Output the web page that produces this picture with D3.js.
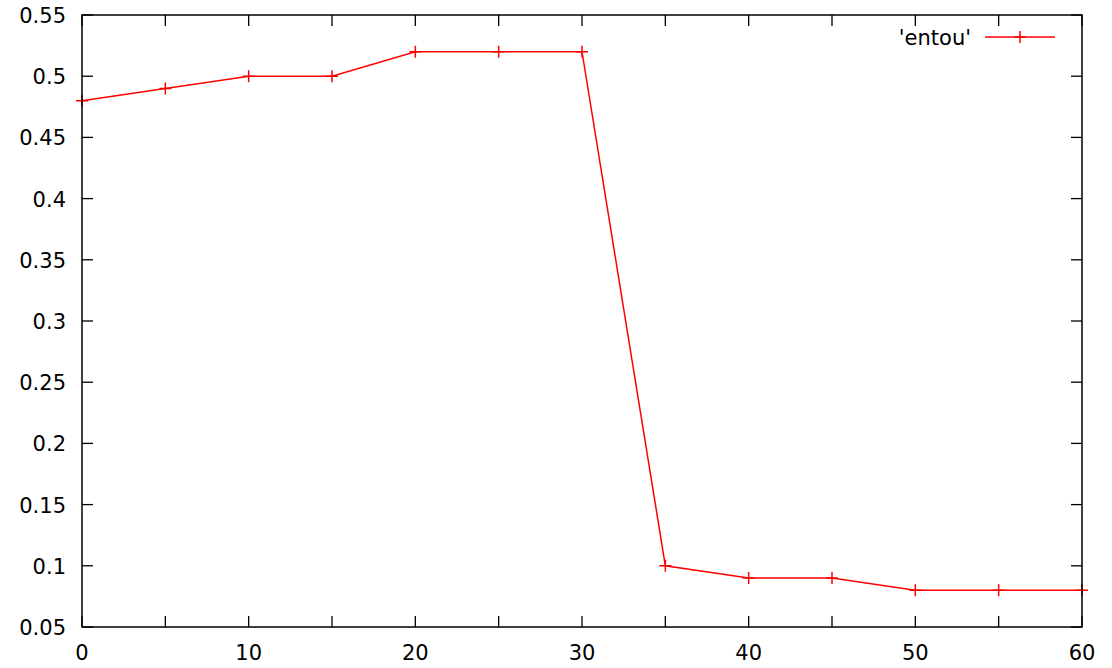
<!DOCTYPE html>
<html>
<head>
<meta charset="utf-8">
<script src="https://cdn.jsdelivr.net/npm/d3@7"></script>
<style>
  body { margin: 0; background: #fff; }
  text { font-family: "DejaVu Sans", sans-serif; font-size: 21px; fill: #000; }
</style>
</head>
<body>
<div id="chart"></div>
<script>
const xs = [0, 5, 10, 15, 20, 25, 30, 35, 40, 45, 50, 55, 60]
const entou = [0.48, 0.49, 0.50, 0.50, 0.52, 0.52, 0.52, 0.10, 0.09, 0.09, 0.08, 0.08, 0.08]
const xTicks = [0, 10, 20, 30, 40, 50, 60]
const xMinor = [5, 15, 25, 35, 45, 55]
const yTicks = [0.05, 0.1, 0.15, 0.2, 0.25, 0.3, 0.35, 0.4, 0.45, 0.5, 0.55]
const seriesName = "'entou'"

const W = 1112, H = 668
const pLeft = 82, pRight = 1082, pTop = 15, pBottom = 627

const svg = d3.select('#chart')
  .append('svg')
  .attr('width', W)
  .attr('height', H)

const x = d3.scaleLinear().domain([0, 60]).range([pLeft, pRight])
const y = d3.scaleLinear().domain([0.05, 0.55]).range([pBottom, pTop])

// inward ticks on all sides, gnuplot-style
const tl = 11
const g = svg.append('g').attr('stroke', '#000').attr('stroke-width', 1.3)
xTicks.concat(xMinor).forEach(function(v) {
  g.append('line').attr('x1', x(v)).attr('x2', x(v)).attr('y1', pBottom).attr('y2', pBottom - tl)
  g.append('line').attr('x1', x(v)).attr('x2', x(v)).attr('y1', pTop).attr('y2', pTop + tl)
})
yTicks.forEach(function(v) {
  g.append('line').attr('x1', pLeft).attr('x2', pLeft + tl).attr('y1', y(v)).attr('y2', y(v))
  g.append('line').attr('x1', pRight).attr('x2', pRight - tl).attr('y1', y(v)).attr('y2', y(v))
})

svg.selectAll('.xl')
  .data(xTicks)
  .enter()
  .append('text')
  .attr('class', 'xl')
  .attr('x', function(d) { return x(d) })
  .attr('y', 660)
  .attr('text-anchor', 'middle')
  .text(function(d) { return d })

svg.selectAll('.yl')
  .data(yTicks)
  .enter()
  .append('text')
  .attr('class', 'yl')
  .attr('x', 66)
  .attr('y', function(d) { return y(d) + 8 })
  .attr('text-anchor', 'end')
  .text(function(d) { return d3.format('~g')(d) })

const pts = xs.map(function(v, i) { return [v, entou[i]] })

svg.append('path')
  .datum(pts)
  .attr('fill', 'none')
  .attr('stroke', '#ff0000')
  .attr('stroke-width', 1.5)
  .attr('d', d3.line().x(function(d) { return x(d[0]) }).y(function(d) { return y(d[1]) }))

const cs = 6
function cross(px, py) {
  return 'M' + (px - cs) + ',' + py + 'H' + (px + cs) + 'M' + px + ',' + (py - cs) + 'V' + (py + cs)
}

svg.selectAll('.pt')
  .data(pts)
  .enter()
  .append('path')
  .attr('class', 'pt')
  .attr('fill', 'none')
  .attr('stroke', '#ff0000')
  .attr('stroke-width', 1.5)
  .attr('d', function(d) { return cross(x(d[0]), y(d[1])) })

// border
svg.append('rect')
  .attr('x', pLeft)
  .attr('y', pTop)
  .attr('width', pRight - pLeft)
  .attr('height', pBottom - pTop)
  .attr('fill', 'none')
  .attr('stroke', '#000')
  .attr('stroke-width', 1.5)

// legend
svg.append('text')
  .attr('x', 971)
  .attr('y', 45)
  .attr('text-anchor', 'end')
  .text(seriesName)
svg.append('line')
  .attr('x1', 985).attr('x2', 1055).attr('y1', 37).attr('y2', 37)
  .attr('stroke', '#ff0000').attr('stroke-width', 1.5)
svg.append('path')
  .attr('d', cross(1020, 37))
  .attr('stroke', '#ff0000').attr('stroke-width', 1.5)
</script>
</body>
</html>
